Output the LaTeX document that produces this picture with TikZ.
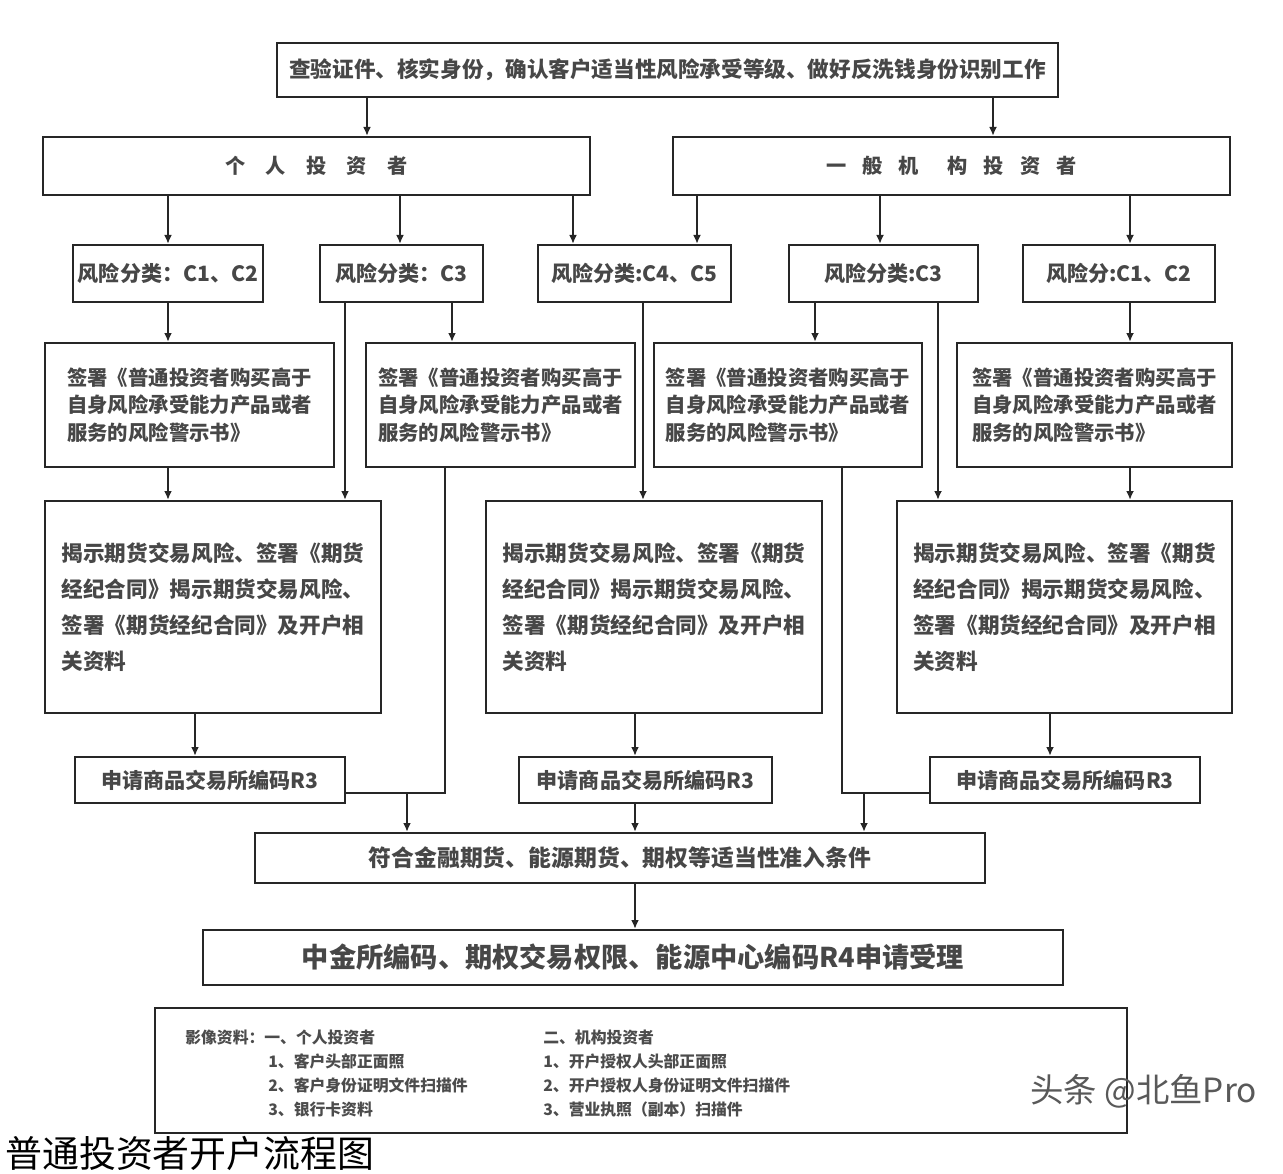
\documentclass[tikz,border=0pt]{standalone}
\usepackage{fontspec}
\setmainfont{Noto Sans CJK SC}
\usetikzlibrary{arrows.meta,positioning}

\begin{document}
\begin{tikzpicture}[x=0.02cm, y=-0.02cm,
    box/.style   = {draw=black!85, line width=1.4pt, fill=white, inner sep=2pt, text=black!72},
    riskbox/.style = {box, minimum height=1.14cm, font=\fontsize{12}{14}\selectfont\bfseries},
    warnbox/.style = {box, minimum height=2.48cm, align=left, font=\fontsize{11.6}{15.6}\selectfont\bfseries},
    infobox/.style = {box, minimum height=4.24cm, align=left, font=\fontsize{12.3}{20.4}\selectfont\bfseries},
    codebox/.style = {box, minimum height=0.92cm, font=\fontsize{12}{14}\selectfont\bfseries},
    note/.style  = {anchor=west, inner sep=0pt, text=black!70, font=\fontsize{9}{11}\selectfont\bfseries},
    line/.style  = {draw=black!85, line width=0.9pt},
    arr/.style   = {line, -{Latex[length=5pt,width=4.5pt]}}]

    \useasboundingbox (0,0) rectangle (1283,1173);

    % top row
    \node[box, minimum width=15.62cm, minimum height=1.08cm, font=\fontsize{12.3}{15}\selectfont\bfseries] (check) at (667.5,70) {查验证件、核实身份，确认客户适当性风险承受等级、做好反洗钱身份识别工作};

    \node[box, minimum width=10.94cm, minimum height=1.16cm, font=\fontsize{11.5}{14}\selectfont\bfseries] (pers) at (316.5,166) {个\quad 人\quad 投\quad 资\quad 者};
    \node[box, minimum width=11.14cm, minimum height=1.16cm, font=\fontsize{11.5}{14}\selectfont\bfseries] (inst) at (951.5,166) {一\hspace{0.8em}般\hspace{0.8em}机\hspace{1.4em}构\hspace{0.8em}投\hspace{0.8em}资\hspace{0.8em}者};

    % risk classes
    \node[riskbox, minimum width=3.8cm]  (ra) at (168,273.5)   {风险分类：C1、C2};
    \node[riskbox, minimum width=3.26cm] (rb) at (401.5,273.5) {风险分类：C3};
    \node[riskbox, minimum width=3.86cm] (rc) at (634.5,273.5) {风险分类:C4、C5};
    \node[riskbox, minimum width=3.78cm] (rd) at (883.5,273.5) {风险分类:C3};
    \node[riskbox, minimum width=3.84cm] (re) at (1119,273.5)  {风险分:C1、C2};

    % warning letters
    \node[warnbox, minimum width=5.78cm] (wa) at (189.5,405)  {签署《普通投资者购买高于\\自身风险承受能力产品或者\\服务的风险警示书》};
    \node[warnbox, minimum width=5.38cm] (wb) at (500.5,405)  {签署《普通投资者购买高于\\自身风险承受能力产品或者\\服务的风险警示书》};
    \node[warnbox, minimum width=5.36cm] (wc) at (788,405)    {签署《普通投资者购买高于\\自身风险承受能力产品或者\\服务的风险警示书》};
    \node[warnbox, minimum width=5.5cm]  (wd) at (1094.5,405) {签署《普通投资者购买高于\\自身风险承受能力产品或者\\服务的风险警示书》};

    % risk disclosure
    \node[infobox, minimum width=6.72cm] (da) at (213,607)    {揭示期货交易风险、签署《期货\\经纪合同》揭示期货交易风险、\\签署《期货经纪合同》及开户相\\关资料};
    \node[infobox, minimum width=6.72cm] (db) at (654,607)    {揭示期货交易风险、签署《期货\\经纪合同》揭示期货交易风险、\\签署《期货经纪合同》及开户相\\关资料};
    \node[infobox, minimum width=6.7cm]  (dc) at (1064.5,607) {揭示期货交易风险、签署《期货\\经纪合同》揭示期货交易风险、\\签署《期货经纪合同》及开户相\\关资料};

    % exchange codes
    \node[codebox, minimum width=5.4cm]  (ka) at (210,780)    {申请商品交易所编码R3};
    \node[codebox, minimum width=5.06cm] (kb) at (645.5,780)  {申请商品交易所编码R3};
    \node[codebox, minimum width=5.4cm]  (kc) at (1065,780)   {申请商品交易所编码R3};

    \node[box, minimum width=14.6cm, minimum height=1.0cm, font=\fontsize{13}{16}\selectfont\bfseries] (final) at (620,858) {符合金融期货、能源期货、期权等适当性准入条件};
    \node[box, minimum width=17.2cm, minimum height=1.1cm, font=\fontsize{15.5}{18}\selectfont\bfseries] (last) at (633,957.5) {中金所编码、期权交易权限、能源中心编码R4申请受理};

    % materials
    \node[box, minimum width=19.44cm, minimum height=2.5cm] (notes) at (641,1070.5) {};
    \node[note] (n0) at (185,1037) {影像资料：一、个人投资者};
    \node[note] (n1) at (268,1061) {1、客户头部正面照};
    \node[note] (n2) at (268,1085) {2、客户身份证明文件扫描件};
    \node[note] (n3) at (268,1109) {3、银行卡资料};
    \node[note] (m0) at (543,1037) {二、机构投资者};
    \node[note] (m1) at (543,1061) {1、开户授权人头部正面照};
    \node[note] (m2) at (543,1085) {2、开户授权人身份证明文件扫描件};
    \node[note] (m3) at (543,1109) {3、营业执照（副本）扫描件};

    \node[anchor=west, inner sep=0pt, text=black!65, font=\fontsize{19}{21}\selectfont] (wm) at (1030,1091) {头条 @北鱼Pro};
    \node[anchor=base west, inner sep=0pt, font=\fontsize{21}{24}\selectfont] (title) at (5,1167) {普通投资者开户流程图};

    % connectors
    \draw[arr] (check.south -| 367,0) -- (pers.north -| 367,0);
    \draw[arr] (check.south -| 993,0) -- (inst.north -| 993,0);

    \draw[arr] (pers.south -| ra) -- (ra.north);
    \draw[arr] (pers.south -| 400,0) -- (rb.north -| 400,0);
    \draw[arr] (pers.south -| 573,0) -- (rc.north -| 573,0);
    \draw[arr] (inst.south -| 697,0) -- (rc.north -| 697,0);
    \draw[arr] (inst.south -| 880,0) -- (rd.north -| 880,0);
    \draw[arr] (inst.south -| 1130,0) -- (re.north -| 1130,0);

    \draw[arr] (ra.south) -- (wa.north -| ra);
    \draw[arr] (rb.south -| 452,0) -- (wb.north -| 452,0);
    \draw[arr] (rb.south -| 345,0) -- (da.north -| 345,0);
    \draw[arr] (rc.south -| 643,0) -- (db.north -| 643,0);
    \draw[arr] (rd.south -| 815,0) -- (wc.north -| 815,0);
    \draw[arr] (rd.south -| 938,0) -- (dc.north -| 938,0);
    \draw[arr] (re.south -| 1130,0) -- (wd.north -| 1130,0);

    \draw[arr] (wa.south -| 168,0) -- (da.north -| 168,0);
    \draw[arr] (wd.south -| 1130,0) -- (dc.north -| 1130,0);

    \draw[arr] (da.south -| 195,0) -- (ka.north -| 195,0);
    \draw[arr] (db.south -| 635,0) -- (kb.north -| 635,0);
    \draw[arr] (dc.south -| 1050,0) -- (kc.north -| 1050,0);

    \coordinate (jl) at (445,793);
    \coordinate (ml) at (407,793);
    \coordinate (jr) at (842,793);
    \coordinate (mr) at (864,793);
    \draw[line] (wb.south -| jl) -- (jl) -- (jl -| ka.east);
    \draw[line] (wc.south -| jr) -- (jr) -- (jr -| kc.west);
    \draw[arr] (ml) -- (final.north -| ml);
    \draw[arr] (mr) -- (final.north -| mr);
    \draw[arr] (kb.south -| 635,0) -- (final.north -| 635,0);

    \draw[arr] (final.south -| 635,0) -- (last.north -| 635,0);
\end{tikzpicture}
\end{document}
